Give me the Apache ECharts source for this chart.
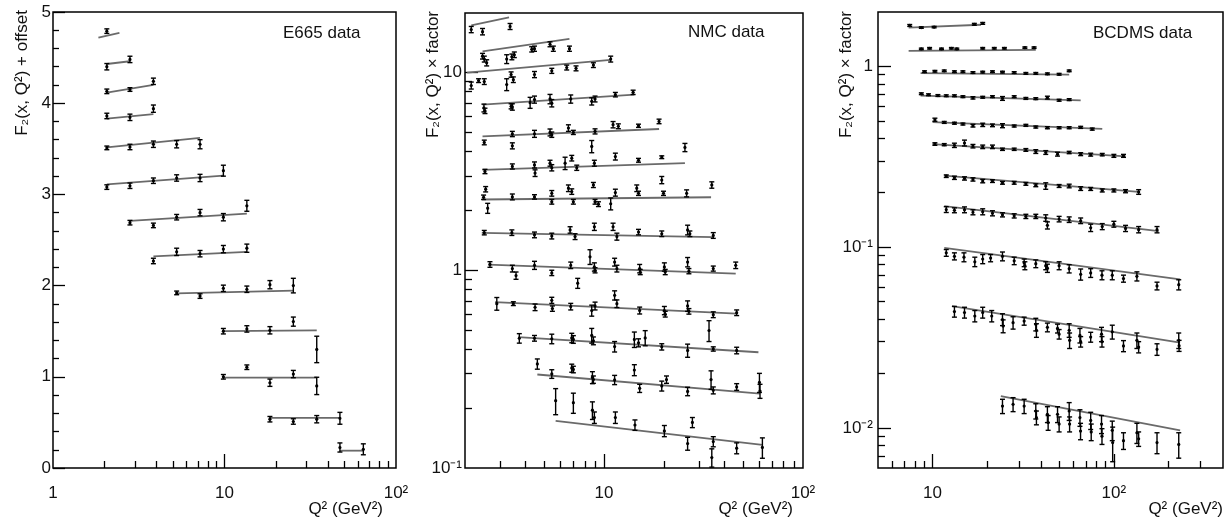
<!DOCTYPE html>
<html><head><meta charset="utf-8">
<script src="https://cdn.jsdelivr.net/npm/echarts@6/dist/echarts.min.js"></script>
<style>html,body{margin:0;padding:0;background:#fff}#c{width:1226px;height:518px}</style>
</head><body><div id="c"></div><script>
// ---------- data: [Q2, value, error] ; fits: [Q2start, Fstart, Q2end, Fend]
const e665Points = [
 [2.06,4.79,0.025],
 [2.06,4.40,0.035],[2.81,4.48,0.035],
 [2.06,4.13,0.025],[2.81,4.15,0.02],[3.85,4.24,0.035],
 [2.06,3.86,0.03],[2.81,3.845,0.035],[3.85,3.94,0.04],
 [2.06,3.51,0.02],[2.81,3.52,0.03],[3.85,3.55,0.035],[5.26,3.55,0.04],[7.2,3.55,0.05],
 [2.06,3.08,0.025],[2.81,3.095,0.03],[3.85,3.15,0.03],[5.26,3.18,0.035],[7.2,3.18,0.04],[9.85,3.26,0.06],
 [2.81,2.69,0.025],[3.85,2.66,0.025],[5.26,2.75,0.03],[7.2,2.80,0.035],[9.85,2.75,0.04],[13.5,2.875,0.06],
 [3.85,2.27,0.03],[5.26,2.37,0.04],[7.2,2.35,0.035],[9.85,2.40,0.04],[13.5,2.41,0.045],
 [5.26,1.92,0.02],[7.2,1.885,0.025],[9.85,1.97,0.035],[13.5,1.96,0.035],[18.4,2.01,0.045],[25.2,2.0,0.08],
 [9.85,1.50,0.03],[13.5,1.525,0.035],[18.4,1.51,0.04],[25.2,1.605,0.05],[34.5,1.30,0.145],
 [9.85,1.00,0.025],[13.5,1.105,0.025],[18.4,0.935,0.04],[25.2,1.03,0.04],[34.5,0.90,0.095],
 [18.4,0.535,0.03],[25.2,0.51,0.03],[34.5,0.535,0.04],[47.1,0.545,0.065],
 [47.1,0.225,0.05],[64.5,0.205,0.06]
];
const e665Fits = [
 [1.84,4.72,2.44,4.77],[2.06,4.43,2.81,4.46],[2.06,4.115,3.85,4.20],[2.06,3.83,3.85,3.88],
 [2.06,3.515,7.2,3.62],[2.06,3.11,9.85,3.205],[2.81,2.71,13.5,2.79],[3.85,2.32,13.5,2.37],
 [5.26,1.915,25.2,1.945],[9.85,1.50,34.5,1.51],[9.85,0.99,34.5,0.99],[18.4,0.55,47.1,0.55],
 [47.1,0.19,64.5,0.19]
];
const nmcPoints = [
 [2.15,16.5,0.6],[2.45,16.1,0.6],[3.37,17.1,0.6],
 [2.45,12.1,0.4],[2.50,11.7,0.4],[2.57,11.2,0.4],[3.24,11.7,0.6],[3.44,12.0,0.4],[3.54,12.3,0.4],[4.33,13.1,0.4],[4.47,13.2,0.4],[5.35,13.9,0.4],[5.56,13.2,0.4],[6.70,13.2,0.4],
 [2.15,8.6,0.35],[2.34,9.1,0.2],[2.50,9.0,0.3],[3.24,8.7,0.6],[3.41,9.77,0.3],[3.50,9.2,0.3],[4.47,9.77,0.35],[5.46,10.2,0.3],[6.49,10.6,0.3],[7.23,10.5,0.3],[8.84,10.9,0.3],[10.8,11.7,0.4],
 [2.49,6.62,0.3],[2.52,6.4,0.2],[3.41,6.75,0.2],[3.46,6.7,0.25],[4.25,7.04,0.45],[4.47,7.3,0.3],[5.35,7.35,0.4],[5.46,7.0,0.3],[6.80,7.35,0.35],[8.67,7.15,0.3],[9.01,7.35,0.25],[11.4,7.73,0.2],[14.0,7.94,0.2],
 [2.50,4.43,0.12],[3.46,4.89,0.15],[3.46,4.26,0.15],[4.47,4.9,0.2],[5.35,4.98,0.2],[5.46,4.85,0.15],[6.62,5.24,0.2],[7.01,4.98,0.12],[8.67,4.23,0.3],[9.01,5.04,0.15],[11.1,5.45,0.2],[11.8,5.35,0.15],[14.9,5.38,0.1],[18.9,5.66,0.15],[25.5,4.18,0.2],
 [2.52,3.16,0.08],[3.46,3.35,0.1],[4.47,3.41,0.12],[4.50,3.1,0.12],[5.35,3.48,0.12],[5.46,3.3,0.12],[6.37,3.48,0.25],[6.88,3.69,0.12],[7.29,3.3,0.1],[8.94,3.48,0.12],[11.4,3.76,0.15],[14.9,3.6,0.08],[19.5,3.73,0.06],
 [2.48,2.34,0.06],[2.54,2.57,0.08],[2.60,2.06,0.12],[3.46,2.35,0.08],[4.47,2.35,0.06],[5.46,2.45,0.08],[5.46,2.22,0.06],[6.62,2.6,0.1],[6.88,2.5,0.08],[7.01,2.22,0.06],[8.84,2.7,0.08],[9.01,2.22,0.06],[9.37,2.16,0.06],[10.8,2.17,0.15],[11.4,2.47,0.1],[14.6,2.6,0.1],[14.9,2.45,0.06],[19.5,2.86,0.12],[19.9,2.45,0.06],[26.0,2.45,0.1],[34.8,2.7,0.1],
 [2.50,1.55,0.04],[3.44,1.55,0.05],[4.47,1.51,0.05],[5.46,1.49,0.05],[6.75,1.6,0.06],[7.15,1.48,0.05],[8.94,1.66,0.07],[11.1,1.66,0.07],[11.6,1.48,0.06],[14.9,1.56,0.05],[19.5,1.53,0.05],[26.3,1.6,0.09],[27.0,1.53,0.05],[35.4,1.5,0.05],
 [2.67,1.07,0.035],[3.46,1.02,0.04],[3.61,0.94,0.04],[4.47,1.06,0.05],[5.46,0.97,0.03],[6.80,1.06,0.04],[7.37,0.86,0.05],[8.50,1.17,0.1],[8.94,1.04,0.05],[9.01,1.0,0.03],[11.3,1.10,0.05],[11.6,1.02,0.04],[15.1,1.02,0.05],[15.2,0.98,0.03],[20.1,1.04,0.05],[20.3,0.98,0.03],[26.3,1.10,0.06],[26.7,0.99,0.03],[35.4,1.02,0.03],[45.9,1.06,0.04],
 [2.89,0.678,0.05],[3.50,0.678,0.015],[4.50,0.65,0.025],[5.46,0.705,0.025],[5.50,0.64,0.02],[6.80,0.655,0.025],[8.67,0.626,0.04],[9.01,0.66,0.03],[11.3,0.747,0.04],[11.6,0.678,0.03],[15.1,0.626,0.025],[20.1,0.626,0.03],[20.3,0.6,0.02],[26.3,0.66,0.04],[26.7,0.62,0.02],[35.4,0.596,0.02],[46.4,0.61,0.02],
 [3.75,0.453,0.025],[4.47,0.453,0.015],[5.46,0.45,0.025],[6.88,0.455,0.025],[7.01,0.447,0.02],[8.67,0.468,0.04],[8.84,0.44,0.02],[11.3,0.411,0.025],[14.2,0.447,0.04],[14.9,0.43,0.02],[16.1,0.455,0.04],[19.5,0.41,0.015],[26.3,0.393,0.03],[33.7,0.496,0.06],[35.4,0.40,0.01],[46.4,0.393,0.015],
 [4.62,0.336,0.02],[5.46,0.299,0.015],[6.88,0.32,0.015],[7.01,0.315,0.012],[8.74,0.287,0.02],[8.84,0.28,0.012],[11.3,0.279,0.015],[14.2,0.313,0.02],[15.1,0.253,0.012],[19.5,0.26,0.015],[20.6,0.28,0.012],[26.3,0.244,0.012],[34.5,0.28,0.03],[35.4,0.247,0.01],[46.4,0.257,0.01],[60.4,0.271,0.03],[60.8,0.245,0.02],
 [5.71,0.219,0.033],[7.01,0.214,0.025],[8.74,0.196,0.02],[8.94,0.18,0.012],[11.4,0.18,0.012],[14.3,0.165,0.01],[20.1,0.154,0.01],[26.3,0.133,0.01],[27.8,0.17,0.01],[34.8,0.113,0.012],[35.4,0.136,0.008],[46.4,0.126,0.008],[62.5,0.127,0.015]
];
const nmcFits = [
 [2.15,17.3,3.33,19.0],[2.45,12.8,6.70,14.8],[2.05,10.0,10.8,11.6],[2.45,6.88,14.2,7.73],
 [2.45,4.75,18.9,5.18],[2.45,3.22,25.5,3.48],[2.43,2.28,34.5,2.34],[2.43,1.546,35.4,1.47],
 [2.62,1.068,45.9,0.962],[2.83,0.69,46.4,0.603],[3.71,0.459,59.7,0.385],[4.62,0.297,60.8,0.238],
 [5.71,0.173,62.5,0.131]
];
const bcdmsPoints = [
 [7.48,1.685,0.02],[8.67,1.64,0.015],[10.2,1.65,0.015],[17.0,1.71,0.02],[18.9,1.73,0.02],
 [8.67,1.25,0.012],[9.63,1.26,0.012],[11.2,1.25,0.012],[12.7,1.26,0.012],[13.6,1.25,0.012],[18.9,1.26,0.012],[21.9,1.26,0.012],[24.9,1.26,0.012],[32.3,1.27,0.012],[36.3,1.27,0.012],
 [9.03,0.935,0.01],[10.3,0.94,0.01],[11.6,0.945,0.01],[13.2,0.935,0.01],[14.7,0.935,0.01],[16.7,0.925,0.01],[18.9,0.93,0.01],[21.4,0.935,0.01],[24.3,0.93,0.01],[28.2,0.925,0.01],[32.7,0.915,0.01],[37.1,0.915,0.01],[43.0,0.91,0.01],[49.9,0.905,0.01],[56.7,0.945,0.01],
 [8.67,0.706,0.008],[9.5,0.697,0.008],[10.7,0.69,0.008],[11.9,0.688,0.008],[13.2,0.688,0.008],[14.7,0.68,0.008],[16.7,0.67,0.01],[18.9,0.675,0.008],[21.4,0.68,0.008],[24.3,0.665,0.016],[28.2,0.68,0.008],[32.7,0.665,0.008],[37.1,0.663,0.008],[43.0,0.672,0.012],[49.9,0.65,0.008],[56.7,0.655,0.008],
 [10.3,0.507,0.01],[11.6,0.49,0.006],[13.2,0.485,0.006],[14.7,0.48,0.006],[16.7,0.47,0.008],[18.9,0.475,0.01],[21.4,0.472,0.008],[24.3,0.47,0.012],[28.2,0.468,0.006],[32.7,0.472,0.006],[37.1,0.462,0.006],[43.0,0.458,0.006],[49.9,0.458,0.006],[56.7,0.458,0.006],[65.6,0.46,0.006],[76.0,0.45,0.006],
 [10.3,0.372,0.006],[11.6,0.369,0.005],[13.2,0.366,0.01],[15.0,0.377,0.014],[16.7,0.362,0.008],[18.9,0.359,0.008],[21.4,0.359,0.008],[24.3,0.348,0.005],[28.2,0.348,0.005],[32.7,0.345,0.006],[37.1,0.338,0.008],[42.1,0.334,0.008],[48.9,0.327,0.008],[56.7,0.334,0.005],[65.6,0.327,0.006],[74.5,0.325,0.006],[86.3,0.325,0.005],[100,0.32,0.006],[113,0.32,0.006],
 [11.9,0.247,0.004],[13.2,0.242,0.005],[15.0,0.24,0.005],[16.7,0.237,0.005],[18.9,0.232,0.005],[21.4,0.232,0.004],[24.3,0.227,0.004],[28.2,0.227,0.004],[32.7,0.224,0.004],[37.1,0.22,0.004],[42.1,0.218,0.009],[49.9,0.218,0.004],[56.7,0.218,0.005],[65.6,0.211,0.005],[74.5,0.21,0.004],[86.3,0.206,0.004],[100,0.206,0.004],[116,0.204,0.004],[137,0.202,0.006],
 [11.9,0.1615,0.006],[13.2,0.16,0.005],[15.0,0.161,0.006],[16.7,0.156,0.005],[18.9,0.157,0.006],[21.4,0.154,0.005],[24.3,0.151,0.004],[28.2,0.149,0.004],[32.7,0.148,0.004],[37.1,0.148,0.004],[42.1,0.145,0.006],[43.0,0.132,0.006],[49.9,0.143,0.005],[56.7,0.142,0.005],[65.6,0.14,0.005],[74.5,0.128,0.006],[86.3,0.13,0.005],[100,0.134,0.005],[116,0.127,0.005],[137,0.125,0.005],[173,0.125,0.005],
 [11.9,0.093,0.004],[13.2,0.089,0.004],[14.9,0.088,0.005],[17.1,0.083,0.005],[18.9,0.086,0.005],[20.9,0.087,0.004],[24.3,0.089,0.005],[28.2,0.084,0.004],[32.0,0.082,0.004],[32.3,0.079,0.004],[37.1,0.081,0.004],[42.1,0.079,0.004],[43.0,0.0765,0.004],[49.9,0.079,0.004],[56.7,0.076,0.004],[65.6,0.0707,0.005],[74.5,0.072,0.004],[86.0,0.070,0.004],[98.0,0.070,0.004],[113,0.067,0.003],[134,0.069,0.004],[173,0.061,0.003],[228,0.062,0.004],
 [13.2,0.044,0.003],[15.0,0.0435,0.003],[17.1,0.0416,0.003],[18.9,0.0435,0.003],[21.2,0.0416,0.003],[24.3,0.0398,0.003],[24.5,0.0366,0.003],[27.8,0.0382,0.003],[32.0,0.039,0.002],[37.1,0.0374,0.003],[37.4,0.0347,0.003],[43.0,0.036,0.002],[48.9,0.0355,0.002],[49.9,0.033,0.002],[56.7,0.0347,0.003],[57.0,0.0305,0.003],[65.0,0.0325,0.003],[65.6,0.030,0.002],[74.5,0.0318,0.002],[85.5,0.033,0.003],[86.0,0.030,0.002],[98.0,0.034,0.003],[113,0.0284,0.002],[134,0.0305,0.003],[137,0.028,0.002],[173,0.0272,0.002],[228,0.0305,0.003],[229,0.0285,0.002],
 [24.3,0.0132,0.0012],[27.8,0.0135,0.0012],[32.0,0.0132,0.0012],[37.1,0.0124,0.0012],[37.4,0.0114,0.001],[43.0,0.0119,0.0012],[43.4,0.0107,0.001],[48.9,0.0119,0.0012],[49.9,0.0105,0.001],[56.7,0.0124,0.0014],[57.0,0.0105,0.001],[65.0,0.0114,0.0012],[65.5,0.0096,0.001],[74.5,0.011,0.0012],[75.0,0.0095,0.001],[85.5,0.0105,0.0012],[86.0,0.009,0.0009],[98.0,0.0097,0.0012],[98.5,0.0083,0.0018],[113,0.0085,0.0009],[134,0.0094,0.0012],[137,0.0087,0.0008],[173,0.0083,0.0011],[228,0.0081,0.0013]
];
const bcdmsFits = [
 [7.38,1.64,18.5,1.70],[7.38,1.22,37.1,1.235],[8.59,0.918,56.7,0.90],[8.59,0.689,65.6,0.649],
 [10.0,0.492,86.3,0.451],[10.0,0.372,116,0.318],[11.6,0.249,137,0.202],[11.6,0.1685,177,0.1226],
 [11.6,0.099,232,0.0663],[12.8,0.0472,232,0.0296],[23.8,0.0150,232,0.0097]
];
// tick values
const e665XLabels = [1,10,100];
const e665XMinor = [2,3,4,5,6,7,8,9,20,30,40,50,60,70,80,90];
const nmcXLabels = [10,100];
const nmcXMinor = [3,4,5,6,7,8,9,20,30,40,50,60,70,80,90];
const nmcYLabels = [0.1,1,10];
const nmcYMinor = [0.2,0.3,0.4,0.5,0.6,0.7,0.8,0.9,2,3,4,5,6,7,8,9];
const nmcYMajor = [1,10];
const bcdmsXLabels = [10,100];
const bcdmsXMinor = [6,7,8,9,20,30,40,50,60,70,80,90,200,300];
const bcdmsXMajor = [10,100];
const bcdmsYLabels = [0.01,0.1,1];
const bcdmsYMinor = [0.007,0.008,0.009,0.02,0.03,0.04,0.05,0.06,0.07,0.08,0.09,0.2,0.3,0.4,0.5,0.6,0.7,0.8,0.9];
const bcdmsYMajor = [0.01,0.1,1];

// ---------- chart
const FONT = '"Liberation Sans", Arial, Helvetica, sans-serif';
const TXT = '#111';
const SUPD = ['⁰','¹','²','³','⁴','⁵','⁶','⁷','⁸','⁹'];
function powLabel(v){
  const e = Math.round(Math.log10(v));
  if (e === 0) return '1';
  if (e === 1) return '10';
  return '10' + (e < 0 ? '⁻' : '') + SUPD[Math.abs(e)];
}
const grids = [
  {left:53, top:12, width:343, height:456},
  {left:465, top:13, width:338, height:455},
  {left:878, top:12, width:345, height:456}
].map(g => Object.assign(g, {show:true, borderColor:'#000', borderWidth:1.5, backgroundColor:'transparent', containLabel:false, outerBoundsMode:'none'}));

function logAxis(gi, min, max, labels, minor, major, isY, margin){
  const lab = {show:true, customValues:labels, formatter:powLabel, margin:margin, fontSize:17, fontFamily:FONT, color:TXT};
  const a = {type:'log', logBase:10, gridIndex:gi, min:min, max:max,
    axisLine:{show:false}, splitLine:{show:false}, minorTick:{show:false},
    axisTick:{show:true, inside:true, length:7, customValues:minor, lineStyle:{color:'#000', width:1.3}},
    axisLabel:lab};
  const b = {type:'log', logBase:10, gridIndex:gi, min:min, max:max,
    axisLine:{show:false}, splitLine:{show:false},
    axisTick:{show:true, inside:true, length:14, customValues:major, lineStyle:{color:'#000', width:1.3}},
    axisLabel:{show:false}};
  if (isY) { a.position = b.position = 'left'; a.axisTick.length = 7; b.axisTick.length = 13; }
  else { a.position = b.position = 'bottom'; }
  return [a, b];
}
const xAxis = [
  ...logAxis(0, 1, 100, e665XLabels, e665XMinor, [10], false, 17),
  ...logAxis(1, 2, 100, nmcXLabels, nmcXMinor, [10], false, 17),
  ...logAxis(2, 5, 400, bcdmsXLabels, bcdmsXMinor, bcdmsXMajor, false, 17)
];
const yAxis = [
  {type:'value', gridIndex:0, min:0, max:5, interval:1, position:'left',
   axisLine:{show:false}, splitLine:{show:false},
   axisTick:{show:true, inside:true, length:12, lineStyle:{color:'#000', width:1.3}},
   minorTick:{show:true, splitNumber:5, length:6, lineStyle:{color:'#000', width:1.3}},
   axisLabel:{margin:2, fontSize:17, fontFamily:FONT, color:TXT}},
  ...logAxis(1, 0.1, 20, nmcYLabels, nmcYMinor, nmcYMajor, true, 3),
  ...logAxis(2, 0.006, 2, bcdmsYLabels, bcdmsYMinor, bcdmsYMajor, true, 5)
];

function fitSeries(xi, yi, data){
  return {type:'custom', xAxisIndex:xi, yAxisIndex:yi, data:data, silent:true, clip:true,
    encode:{x:[0,2], y:[1,3]},
    renderItem:function(p, api){
      const a = api.coord([api.value(0), api.value(1)]);
      const b = api.coord([api.value(2), api.value(3)]);
      return {type:'line', shape:{x1:a[0], y1:a[1], x2:b[0], y2:b[1]},
        style:{stroke:'#6a6a6a', lineWidth:1.8}};
    }};
}
function pointSeries(xi, yi, data){
  return {type:'custom', xAxisIndex:xi, yAxisIndex:yi, data:data, silent:true, clip:true,
    encode:{x:0, y:1},
    renderItem:function(p, api){
      const x = api.value(0), y = api.value(1), e = api.value(2);
      const c = api.coord([x, y]);
      const lo = api.coord([x, y - e]);
      const hi = api.coord([x, y + e]);
      const cw = 2.5;
      const st = {stroke:'#000', lineWidth:1.4};
      return {type:'group', children:[
        {type:'line', shape:{x1:c[0], y1:lo[1], x2:c[0], y2:hi[1]}, style:st},
        {type:'line', shape:{x1:c[0]-cw, y1:lo[1], x2:c[0]+cw, y2:lo[1]}, style:st},
        {type:'line', shape:{x1:c[0]-cw, y1:hi[1], x2:c[0]+cw, y2:hi[1]}, style:st},
        {type:'circle', shape:{cx:c[0], cy:c[1], r:1.6}, style:{fill:'#000'}}
      ]};
    }};
}
const series = [
  fitSeries(0, 0, e665Fits), pointSeries(0, 0, e665Points),
  fitSeries(2, 1, nmcFits), pointSeries(2, 1, nmcPoints),
  fitSeries(4, 3, bcdmsFits), pointSeries(4, 3, bcdmsPoints)
];

function txt(x, y, s, align, rot){
  return {type:'text', x:x, y:y, rotation:rot || 0, silent:true,
    style:{text:s, fontSize:17, fontFamily:FONT, fill:TXT, align:align, verticalAlign:'middle'}};
}
const graphic = [
  txt(22, 10, 'F₂(x, Q²) + offset', 'right', Math.PI/2),
  txt(433, 11, 'F₂(x, Q²) × factor', 'right', Math.PI/2),
  txt(846, 11, 'F₂(x, Q²) × factor', 'right', Math.PI/2),
  txt(383, 509, 'Q² (GeV²)', 'right'),
  txt(793, 509, 'Q² (GeV²)', 'right'),
  txt(1223, 509, 'Q² (GeV²)', 'right'),
  txt(283, 33, 'E665 data', 'left'),
  txt(688, 32, 'NMC data', 'left'),
  txt(1093, 33, 'BCDMS data', 'left')
];

const chart = echarts.init(document.getElementById('c'), null, {renderer:'canvas'});
chart.setOption({animation:false, backgroundColor:'#fff', grid:grids, xAxis:xAxis, yAxis:yAxis, series:series, graphic:graphic});
</script></body></html>
